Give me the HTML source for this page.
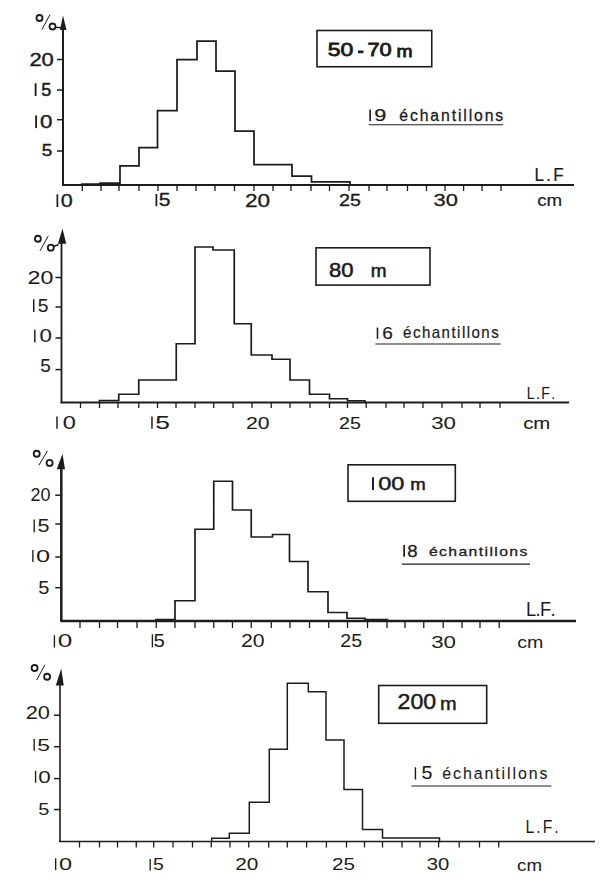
<!DOCTYPE html>
<html><head><meta charset="utf-8">
<style>
html,body{margin:0;padding:0;background:#fff;}
body{width:600px;height:886px;overflow:hidden;}
svg{display:block;}
text{font-family:"Liberation Sans",sans-serif;font-kerning:none;}
</style></head>
<body>
<svg width="600" height="886" viewBox="0 0 600 886">
<rect width="600" height="886" fill="#fff"/>
<line x1="63" y1="28" x2="63" y2="185" stroke="#1c1c1c" stroke-width="2.0"/>
<polygon points="63,15.5 60,30 66.5,30" fill="#1c1c1c"/>
<line x1="62" y1="185" x2="574" y2="185" stroke="#1c1c1c" stroke-width="2.0"/>
<line x1="82.3" y1="185" x2="82.3" y2="191" stroke="#1c1c1c" stroke-width="1.3"/>
<line x1="101" y1="185" x2="101" y2="191" stroke="#1c1c1c" stroke-width="1.3"/>
<line x1="119" y1="185" x2="119" y2="191" stroke="#1c1c1c" stroke-width="1.3"/>
<line x1="139" y1="185" x2="139" y2="191" stroke="#1c1c1c" stroke-width="1.3"/>
<line x1="158" y1="185" x2="158" y2="191" stroke="#1c1c1c" stroke-width="1.3"/>
<line x1="177" y1="185" x2="177" y2="191" stroke="#1c1c1c" stroke-width="1.3"/>
<line x1="196" y1="185" x2="196" y2="191" stroke="#1c1c1c" stroke-width="1.3"/>
<line x1="215" y1="185" x2="215" y2="191" stroke="#1c1c1c" stroke-width="1.3"/>
<line x1="234.5" y1="185" x2="234.5" y2="191" stroke="#1c1c1c" stroke-width="1.3"/>
<line x1="254" y1="185" x2="254" y2="191" stroke="#1c1c1c" stroke-width="1.3"/>
<line x1="273" y1="185" x2="273" y2="191" stroke="#1c1c1c" stroke-width="1.3"/>
<line x1="291" y1="185" x2="291" y2="191" stroke="#1c1c1c" stroke-width="1.3"/>
<line x1="311" y1="185" x2="311" y2="191" stroke="#1c1c1c" stroke-width="1.3"/>
<line x1="329.5" y1="185" x2="329.5" y2="191" stroke="#1c1c1c" stroke-width="1.3"/>
<line x1="349" y1="185" x2="349" y2="191" stroke="#1c1c1c" stroke-width="1.3"/>
<line x1="369" y1="185" x2="369" y2="191" stroke="#1c1c1c" stroke-width="1.3"/>
<line x1="387" y1="185" x2="387" y2="191" stroke="#1c1c1c" stroke-width="1.3"/>
<line x1="407.5" y1="185" x2="407.5" y2="191" stroke="#1c1c1c" stroke-width="1.3"/>
<line x1="426.5" y1="185" x2="426.5" y2="191" stroke="#1c1c1c" stroke-width="1.3"/>
<line x1="445" y1="185" x2="445" y2="191" stroke="#1c1c1c" stroke-width="1.3"/>
<line x1="463.6" y1="185" x2="463.6" y2="191" stroke="#1c1c1c" stroke-width="1.3"/>
<line x1="482" y1="185" x2="482" y2="191" stroke="#1c1c1c" stroke-width="1.3"/>
<line x1="501" y1="185" x2="501" y2="191" stroke="#1c1c1c" stroke-width="1.3"/>
<line x1="57" y1="59.5" x2="63" y2="59.5" stroke="#1c1c1c" stroke-width="1.5"/>
<line x1="57" y1="90" x2="63" y2="90" stroke="#1c1c1c" stroke-width="1.5"/>
<line x1="57" y1="119.7" x2="63" y2="119.7" stroke="#1c1c1c" stroke-width="1.5"/>
<line x1="57" y1="151" x2="63" y2="151" stroke="#1c1c1c" stroke-width="1.5"/>
<circle cx="39.5" cy="18" r="3" fill="none" stroke="#1c1c1c" stroke-width="1.8"/>
<circle cx="52.5" cy="26.5" r="3" fill="none" stroke="#1c1c1c" stroke-width="1.8"/>
<line x1="42" y1="29.5" x2="50" y2="14.5" stroke="#1c1c1c" stroke-width="1.0"/>
<line x1="55.5" y1="27.5" x2="61" y2="27.5" stroke="#1c1c1c" stroke-width="1.5"/>
<text transform="translate(29.39,66.31) scale(1.1535,1)" font-size="19.07" fill="#1c1c1c" stroke="#1c1c1c" stroke-width="0.433">20</text>
<line x1="35.62" y1="83.30" x2="35.62" y2="96.00" stroke="#1c1c1c" stroke-width="1.85"/>
<text transform="translate(41.26,95.82) scale(0.9787,1)" font-size="18.36" fill="#1c1c1c" stroke="#1c1c1c" stroke-width="0.511">5</text>
<line x1="36.12" y1="115.40" x2="36.12" y2="128.10" stroke="#1c1c1c" stroke-width="1.85"/>
<text transform="translate(40.05,127.92) scale(1.2168,1)" font-size="18.36" fill="#1c1c1c" stroke="#1c1c1c" stroke-width="0.411">0</text>
<text transform="translate(41.84,156.13) scale(1.0927,1)" font-size="17.37" fill="#1c1c1c" stroke="#1c1c1c" stroke-width="0.458">5</text>
<line x1="57.38" y1="194.30" x2="57.38" y2="207.00" stroke="#1c1c1c" stroke-width="1.75"/>
<text transform="translate(60.86,206.82) scale(1.1735,1)" font-size="18.36" fill="#1c1c1c" stroke="#1c1c1c" stroke-width="0.341">0</text>
<line x1="156.38" y1="194.05" x2="156.38" y2="206.25" stroke="#1c1c1c" stroke-width="1.75"/>
<text transform="translate(158.66,206.08) scale(1.1946,1)" font-size="17.66" fill="#1c1c1c" stroke="#1c1c1c" stroke-width="0.335">5</text>
<text transform="translate(244.96,206.62) scale(1.2021,1)" font-size="18.79" fill="#1c1c1c" stroke="#1c1c1c" stroke-width="0.333">20</text>
<text transform="translate(339.01,206.09) scale(1.2340,1)" font-size="15.89" fill="#1c1c1c" stroke="#1c1c1c" stroke-width="0.324">25</text>
<text transform="translate(433.46,206.09) scale(1.3801,1)" font-size="15.89" fill="#1c1c1c" stroke="#1c1c1c" stroke-width="0.290">30</text>
<rect x="317" y="30.5" width="114.75" height="36.25" fill="none" stroke="#1c1c1c" stroke-width="1.6"/>
<text transform="translate(327.83,56.32) scale(1.2519,1)" font-size="18.36" fill="#1c1c1c" stroke="#1c1c1c" stroke-width="0.799">50</text>
<rect x="358" y="50.5" width="5.5" height="2.700000000000003" fill="#1c1c1c"/>
<text transform="translate(367.38,56.32) scale(1.1884,1)" font-size="18.36" fill="#1c1c1c" stroke="#1c1c1c" stroke-width="0.841">70</text>
<text transform="translate(396.47,56.50) scale(1.1848,1)" font-size="16.26" fill="#1c1c1c" stroke="#1c1c1c" stroke-width="0.844">m</text>
<line x1="370.12" y1="109.60" x2="370.12" y2="121.30" stroke="#1c1c1c" stroke-width="1.65"/>
<text transform="translate(374.29,121.13) scale(1.2773,1)" font-size="16.95" fill="#1c1c1c" stroke="#1c1c1c" stroke-width="0.235">9</text>
<text transform="translate(399.33,120.74) scale(0.9500,1)" font-size="16.61" letter-spacing="1.972" fill="#1c1c1c" stroke="#1c1c1c" stroke-width="0.316">échantillons</text>
<line x1="368.7" y1="124.7" x2="503" y2="124.7" stroke="#1c1c1c" stroke-width="1.1"/>
<text transform="translate(534.40,180.50) scale(0.9000,1)" font-size="18.90" letter-spacing="2.614" fill="#1c1c1c" stroke="#1c1c1c" stroke-width="0.222">L.F</text>
<text transform="translate(537.20,205.64) scale(1.1484,1)" font-size="16.35" fill="#1c1c1c" stroke="#1c1c1c" stroke-width="0.174">cm</text>
<path d="M82,185 L82,184 L100,184 L100,183 L120,183 L120,165.75 L139,165.75 L139,147.5 L157.5,147.5 L157.5,110.5 L177,110.5 L177,59.5 L197,59.5 L197,41 L216,41 L216,71 L235,71 L235,131 L254,131 L254,164.5 L292,164.5 L292,176 L311.5,176 L311.5,181.8 L350,181.8 L350,185" fill="none" stroke="#1c1c1c" stroke-width="1.75" stroke-linejoin="miter" stroke-linecap="square"/>
<line x1="61.5" y1="241.75" x2="61.5" y2="402.5" stroke="#1c1c1c" stroke-width="1.8"/>
<polygon points="62.5,228.75 57.9,243.75 66.25,243.75" fill="#1c1c1c"/>
<line x1="60.5" y1="402.5" x2="569" y2="402.5" stroke="#1c1c1c" stroke-width="1.8"/>
<line x1="80.5" y1="402.5" x2="80.5" y2="408.0" stroke="#1c1c1c" stroke-width="1.3"/>
<line x1="99.5" y1="402.5" x2="99.5" y2="408.0" stroke="#1c1c1c" stroke-width="1.3"/>
<line x1="118" y1="402.5" x2="118" y2="408.0" stroke="#1c1c1c" stroke-width="1.3"/>
<line x1="138.75" y1="402.5" x2="138.75" y2="408.0" stroke="#1c1c1c" stroke-width="1.3"/>
<line x1="157.5" y1="402.5" x2="157.5" y2="408.0" stroke="#1c1c1c" stroke-width="1.3"/>
<line x1="176" y1="402.5" x2="176" y2="408.0" stroke="#1c1c1c" stroke-width="1.3"/>
<line x1="195" y1="402.5" x2="195" y2="408.0" stroke="#1c1c1c" stroke-width="1.3"/>
<line x1="213.75" y1="402.5" x2="213.75" y2="408.0" stroke="#1c1c1c" stroke-width="1.3"/>
<line x1="233" y1="402.5" x2="233" y2="408.0" stroke="#1c1c1c" stroke-width="1.3"/>
<line x1="252" y1="402.5" x2="252" y2="408.0" stroke="#1c1c1c" stroke-width="1.3"/>
<line x1="271.25" y1="402.5" x2="271.25" y2="408.0" stroke="#1c1c1c" stroke-width="1.3"/>
<line x1="290" y1="402.5" x2="290" y2="408.0" stroke="#1c1c1c" stroke-width="1.3"/>
<line x1="310" y1="402.5" x2="310" y2="408.0" stroke="#1c1c1c" stroke-width="1.3"/>
<line x1="329.5" y1="402.5" x2="329.5" y2="408.0" stroke="#1c1c1c" stroke-width="1.3"/>
<line x1="347.5" y1="402.5" x2="347.5" y2="408.0" stroke="#1c1c1c" stroke-width="1.3"/>
<line x1="366.25" y1="402.5" x2="366.25" y2="408.0" stroke="#1c1c1c" stroke-width="1.3"/>
<line x1="386" y1="402.5" x2="386" y2="408.0" stroke="#1c1c1c" stroke-width="1.3"/>
<line x1="404" y1="402.5" x2="404" y2="408.0" stroke="#1c1c1c" stroke-width="1.3"/>
<line x1="423" y1="402.5" x2="423" y2="408.0" stroke="#1c1c1c" stroke-width="1.3"/>
<line x1="442" y1="402.5" x2="442" y2="408.0" stroke="#1c1c1c" stroke-width="1.3"/>
<line x1="462" y1="402.5" x2="462" y2="408.0" stroke="#1c1c1c" stroke-width="1.3"/>
<line x1="480" y1="402.5" x2="480" y2="408.0" stroke="#1c1c1c" stroke-width="1.3"/>
<line x1="500" y1="402.5" x2="500" y2="408.0" stroke="#1c1c1c" stroke-width="1.3"/>
<line x1="55.5" y1="277.5" x2="61.5" y2="277.5" stroke="#1c1c1c" stroke-width="1.5"/>
<line x1="55.5" y1="307" x2="61.5" y2="307" stroke="#1c1c1c" stroke-width="1.5"/>
<line x1="55.5" y1="338" x2="61.5" y2="338" stroke="#1c1c1c" stroke-width="1.5"/>
<line x1="55.5" y1="369.6" x2="61.5" y2="369.6" stroke="#1c1c1c" stroke-width="1.5"/>
<circle cx="37.9" cy="238.75" r="3" fill="none" stroke="#1c1c1c" stroke-width="1.8"/>
<circle cx="50.8" cy="247.7" r="3" fill="none" stroke="#1c1c1c" stroke-width="1.8"/>
<line x1="40" y1="250.8" x2="48.3" y2="235.8" stroke="#1c1c1c" stroke-width="1.0"/>
<line x1="53.8" y1="246.5" x2="58.5" y2="244.5" stroke="#1c1c1c" stroke-width="1.5"/>
<text transform="translate(27.58,284.31) scale(1.2176,1)" font-size="19.07" fill="#1c1c1c" stroke="#1c1c1c" stroke-width="0.082">20</text>
<line x1="33.73" y1="299.30" x2="33.73" y2="312.00" stroke="#1c1c1c" stroke-width="1.45"/>
<text transform="translate(37.82,311.82) scale(1.0465,1)" font-size="18.36" fill="#1c1c1c" stroke="#1c1c1c" stroke-width="0.096">5</text>
<line x1="34.83" y1="329.80" x2="34.83" y2="342.50" stroke="#1c1c1c" stroke-width="1.45"/>
<text transform="translate(39.47,342.32) scale(1.2145,1)" font-size="18.36" fill="#1c1c1c" stroke="#1c1c1c" stroke-width="0.082">0</text>
<text transform="translate(40.14,372.21) scale(0.9882,1)" font-size="19.21" fill="#1c1c1c" stroke="#1c1c1c" stroke-width="0.101">5</text>
<line x1="56.98" y1="416.55" x2="56.98" y2="428.75" stroke="#1c1c1c" stroke-width="1.45"/>
<text transform="translate(62.83,428.58) scale(1.3330,1)" font-size="17.66" fill="#1c1c1c" stroke="#1c1c1c" stroke-width="0.075">0</text>
<line x1="151.97" y1="416.55" x2="151.97" y2="428.75" stroke="#1c1c1c" stroke-width="1.45"/>
<text transform="translate(155.19,428.58) scale(1.4933,1)" font-size="17.66" fill="#1c1c1c" stroke="#1c1c1c" stroke-width="0.067">5</text>
<text transform="translate(245.93,428.59) scale(1.3381,1)" font-size="15.89" fill="#1c1c1c" stroke="#1c1c1c" stroke-width="0.075">20</text>
<text transform="translate(339.01,428.59) scale(1.2340,1)" font-size="15.89" fill="#1c1c1c" stroke="#1c1c1c" stroke-width="0.081">25</text>
<text transform="translate(431.15,428.83) scale(1.2894,1)" font-size="17.23" fill="#1c1c1c" stroke="#1c1c1c" stroke-width="0.078">30</text>
<rect x="316" y="247.8" width="114" height="37.30000000000001" fill="none" stroke="#1c1c1c" stroke-width="1.6"/>
<text transform="translate(329.04,276.81) scale(1.1148,1)" font-size="19.77" fill="#1c1c1c" stroke="#1c1c1c" stroke-width="0.538">80</text>
<text transform="translate(370.74,277.00) scale(1.0751,1)" font-size="17.66" fill="#1c1c1c" stroke="#1c1c1c" stroke-width="0.558">m</text>
<line x1="377.47" y1="327.60" x2="377.47" y2="338.80" stroke="#1c1c1c" stroke-width="1.55"/>
<text transform="translate(382.29,338.64) scale(1.1668,1)" font-size="16.24" fill="#1c1c1c" stroke="#1c1c1c" stroke-width="0.171">6</text>
<text transform="translate(403.06,338.24) scale(0.9500,1)" font-size="15.88" letter-spacing="1.542" fill="#1c1c1c" stroke="#1c1c1c" stroke-width="0.211">échantillons</text>
<line x1="375.3" y1="344" x2="500.7" y2="344" stroke="#1c1c1c" stroke-width="1.1"/>
<text transform="translate(526.84,398.80) scale(0.9000,1)" font-size="15.70" letter-spacing="1.523" fill="#1c1c1c" stroke="#1c1c1c" stroke-width="0.111">L.F.</text>
<text transform="translate(523.13,428.64) scale(1.2483,1)" font-size="16.35" fill="#1c1c1c" stroke="#1c1c1c" stroke-width="0.080">cm</text>
<path d="M99.5,402.5 L99.5,400.5 L118.75,400.5 L118.75,394.25 L138.75,394.25 L138.75,380 L176.25,380 L176.25,343.75 L195,343.75 L195,247 L213,247 L213,250 L234.25,250 L234.25,323.75 L251.25,323.75 L251.25,355 L272,355 L272,359.25 L290,359.25 L290,380 L309.5,380 L309.5,394.25 L329.5,394.25 L329.5,398.75 L347.5,398.75 L347.5,400.75 L365,400.75 L365,402.5" fill="none" stroke="#1c1c1c" stroke-width="1.7" stroke-linejoin="miter" stroke-linecap="square"/>
<line x1="61.3" y1="467.2" x2="61.3" y2="621" stroke="#1c1c1c" stroke-width="2.5"/>
<polygon points="62.5,453.75 56.7,469.2 65,469.2" fill="#1c1c1c"/>
<line x1="60.3" y1="621" x2="576" y2="621" stroke="#1c1c1c" stroke-width="2.5"/>
<line x1="80" y1="621" x2="80" y2="628" stroke="#1c1c1c" stroke-width="1.3"/>
<line x1="99.5" y1="621" x2="99.5" y2="628" stroke="#1c1c1c" stroke-width="1.3"/>
<line x1="117.5" y1="621" x2="117.5" y2="628" stroke="#1c1c1c" stroke-width="1.3"/>
<line x1="137" y1="621" x2="137" y2="628" stroke="#1c1c1c" stroke-width="1.3"/>
<line x1="156.25" y1="621" x2="156.25" y2="628" stroke="#1c1c1c" stroke-width="1.3"/>
<line x1="175" y1="621" x2="175" y2="628" stroke="#1c1c1c" stroke-width="1.3"/>
<line x1="195" y1="621" x2="195" y2="628" stroke="#1c1c1c" stroke-width="1.3"/>
<line x1="213.75" y1="621" x2="213.75" y2="628" stroke="#1c1c1c" stroke-width="1.3"/>
<line x1="232.5" y1="621" x2="232.5" y2="628" stroke="#1c1c1c" stroke-width="1.3"/>
<line x1="251.25" y1="621" x2="251.25" y2="628" stroke="#1c1c1c" stroke-width="1.3"/>
<line x1="271.25" y1="621" x2="271.25" y2="628" stroke="#1c1c1c" stroke-width="1.3"/>
<line x1="290" y1="621" x2="290" y2="628" stroke="#1c1c1c" stroke-width="1.3"/>
<line x1="309.5" y1="621" x2="309.5" y2="628" stroke="#1c1c1c" stroke-width="1.3"/>
<line x1="328.75" y1="621" x2="328.75" y2="628" stroke="#1c1c1c" stroke-width="1.3"/>
<line x1="347.5" y1="621" x2="347.5" y2="628" stroke="#1c1c1c" stroke-width="1.3"/>
<line x1="367.5" y1="621" x2="367.5" y2="628" stroke="#1c1c1c" stroke-width="1.3"/>
<line x1="387" y1="621" x2="387" y2="628" stroke="#1c1c1c" stroke-width="1.3"/>
<line x1="405" y1="621" x2="405" y2="628" stroke="#1c1c1c" stroke-width="1.3"/>
<line x1="423.75" y1="621" x2="423.75" y2="628" stroke="#1c1c1c" stroke-width="1.3"/>
<line x1="443.2" y1="621" x2="443.2" y2="628" stroke="#1c1c1c" stroke-width="1.3"/>
<line x1="462" y1="621" x2="462" y2="628" stroke="#1c1c1c" stroke-width="1.3"/>
<line x1="480" y1="621" x2="480" y2="628" stroke="#1c1c1c" stroke-width="1.3"/>
<line x1="499.2" y1="621" x2="499.2" y2="628" stroke="#1c1c1c" stroke-width="1.3"/>
<line x1="55.3" y1="495.2" x2="61.3" y2="495.2" stroke="#1c1c1c" stroke-width="1.5"/>
<line x1="55.3" y1="524" x2="61.3" y2="524" stroke="#1c1c1c" stroke-width="1.5"/>
<line x1="55.3" y1="557" x2="61.3" y2="557" stroke="#1c1c1c" stroke-width="1.5"/>
<line x1="55.3" y1="587.7" x2="61.3" y2="587.7" stroke="#1c1c1c" stroke-width="1.5"/>
<circle cx="36.7" cy="453.75" r="3" fill="none" stroke="#1c1c1c" stroke-width="1.8"/>
<circle cx="49.6" cy="462.9" r="3" fill="none" stroke="#1c1c1c" stroke-width="1.8"/>
<line x1="38.75" y1="465.4" x2="47.5" y2="450.8" stroke="#1c1c1c" stroke-width="1.0"/>
<text transform="translate(30.60,500.81) scale(0.9382,1)" font-size="19.07" fill="#1c1c1c">20</text>
<line x1="34.17" y1="519.60" x2="34.17" y2="532.20" stroke="#1c1c1c" stroke-width="1.35"/>
<text transform="translate(37.41,532.02) scale(1.1839,1)" font-size="18.22" fill="#1c1c1c">5</text>
<line x1="32.88" y1="550.10" x2="32.88" y2="562.00" stroke="#1c1c1c" stroke-width="1.35"/>
<text transform="translate(35.97,561.83) scale(1.4741,1)" font-size="17.23" fill="#1c1c1c">0</text>
<text transform="translate(38.20,593.62) scale(1.1083,1)" font-size="18.08" fill="#1c1c1c">5</text>
<line x1="54.42" y1="635.30" x2="54.42" y2="647.50" stroke="#1c1c1c" stroke-width="1.35"/>
<text transform="translate(57.73,647.33) scale(1.4811,1)" font-size="17.66" fill="#1c1c1c">0</text>
<line x1="152.38" y1="634.30" x2="152.38" y2="647.30" stroke="#1c1c1c" stroke-width="1.35"/>
<text transform="translate(153.55,647.12) scale(1.0824,1)" font-size="18.79" fill="#1c1c1c">5</text>
<text transform="translate(240.93,647.33) scale(1.2043,1)" font-size="17.66" fill="#1c1c1c">20</text>
<text transform="translate(340.26,647.33) scale(1.1106,1)" font-size="17.66" fill="#1c1c1c">25</text>
<text transform="translate(431.15,647.83) scale(1.3109,1)" font-size="16.95" fill="#1c1c1c">30</text>
<rect x="348" y="464.8" width="107.30000000000001" height="36.5" fill="none" stroke="#1c1c1c" stroke-width="1.6"/>
<line x1="372.98" y1="477.30" x2="372.98" y2="490.00" stroke="#1c1c1c" stroke-width="1.95"/>
<text transform="translate(378.23,489.82) scale(1.2823,1)" font-size="18.36" fill="#1c1c1c" stroke="#1c1c1c" stroke-width="0.468">00</text>
<text transform="translate(410.37,490.00) scale(1.1345,1)" font-size="16.35" fill="#1c1c1c" stroke="#1c1c1c" stroke-width="0.529">m</text>
<line x1="404.15" y1="545.00" x2="404.15" y2="556.70" stroke="#1c1c1c" stroke-width="1.70"/>
<text transform="translate(407.17,556.53) scale(1.0964,1)" font-size="16.95" fill="#1c1c1c" stroke="#1c1c1c" stroke-width="0.319">8</text>
<text transform="translate(428.93,556.37) scale(1.1500,1)" font-size="13.69" letter-spacing="1.209" fill="#1c1c1c" stroke="#1c1c1c" stroke-width="0.304">échantillons</text>
<line x1="402" y1="564.1" x2="530" y2="564.1" stroke="#1c1c1c" stroke-width="1.1"/>
<text transform="translate(526.00,616.00) scale(0.9000,1)" font-size="20.35" letter-spacing="-0.694" fill="#1c1c1c">L.F.</text>
<text transform="translate(517.17,647.83) scale(1.1462,1)" font-size="17.10" fill="#1c1c1c">cm</text>
<path d="M156,621 L156,619.5 L175,619.5 L175,600.75 L195,600.75 L195,529.25 L213.75,529.25 L213.75,481.25 L232.5,481.25 L232.5,510 L251.25,510 L251.25,537 L272.5,537 L272.5,534.5 L289.5,534.5 L289.5,561.5 L308,561.5 L308,591.75 L328,591.75 L328,612.5 L347,612.5 L347,618.25 L365,618.25 L365,619.5 L387.5,619.5 L387.5,621" fill="none" stroke="#1c1c1c" stroke-width="1.7" stroke-linejoin="miter" stroke-linecap="square"/>
<line x1="60" y1="683.5" x2="60" y2="841.5" stroke="#1c1c1c" stroke-width="1.6"/>
<polygon points="61.25,668.4 55.8,685.5 63.75,685.5" fill="#1c1c1c"/>
<line x1="59" y1="841.5" x2="595" y2="841.5" stroke="#1c1c1c" stroke-width="1.6"/>
<line x1="79.5" y1="841.5" x2="79.5" y2="847.5" stroke="#1c1c1c" stroke-width="1.3"/>
<line x1="99.5" y1="841.5" x2="99.5" y2="847.5" stroke="#1c1c1c" stroke-width="1.3"/>
<line x1="117.5" y1="841.5" x2="117.5" y2="847.5" stroke="#1c1c1c" stroke-width="1.3"/>
<line x1="136.25" y1="841.5" x2="136.25" y2="847.5" stroke="#1c1c1c" stroke-width="1.3"/>
<line x1="153.75" y1="841.5" x2="153.75" y2="847.5" stroke="#1c1c1c" stroke-width="1.3"/>
<line x1="173" y1="841.5" x2="173" y2="847.5" stroke="#1c1c1c" stroke-width="1.3"/>
<line x1="192.5" y1="841.5" x2="192.5" y2="847.5" stroke="#1c1c1c" stroke-width="1.3"/>
<line x1="211.25" y1="841.5" x2="211.25" y2="847.5" stroke="#1c1c1c" stroke-width="1.3"/>
<line x1="230" y1="841.5" x2="230" y2="847.5" stroke="#1c1c1c" stroke-width="1.3"/>
<line x1="248.75" y1="841.5" x2="248.75" y2="847.5" stroke="#1c1c1c" stroke-width="1.3"/>
<line x1="268.75" y1="841.5" x2="268.75" y2="847.5" stroke="#1c1c1c" stroke-width="1.3"/>
<line x1="287.3" y1="841.5" x2="287.3" y2="847.5" stroke="#1c1c1c" stroke-width="1.3"/>
<line x1="306.6" y1="841.5" x2="306.6" y2="847.5" stroke="#1c1c1c" stroke-width="1.3"/>
<line x1="326.4" y1="841.5" x2="326.4" y2="847.5" stroke="#1c1c1c" stroke-width="1.3"/>
<line x1="346.5" y1="841.5" x2="346.5" y2="847.5" stroke="#1c1c1c" stroke-width="1.3"/>
<line x1="364.5" y1="841.5" x2="364.5" y2="847.5" stroke="#1c1c1c" stroke-width="1.3"/>
<line x1="382.5" y1="841.5" x2="382.5" y2="847.5" stroke="#1c1c1c" stroke-width="1.3"/>
<line x1="402" y1="841.5" x2="402" y2="847.5" stroke="#1c1c1c" stroke-width="1.3"/>
<line x1="420" y1="841.5" x2="420" y2="847.5" stroke="#1c1c1c" stroke-width="1.3"/>
<line x1="438.6" y1="841.5" x2="438.6" y2="847.5" stroke="#1c1c1c" stroke-width="1.3"/>
<line x1="459.2" y1="841.5" x2="459.2" y2="847.5" stroke="#1c1c1c" stroke-width="1.3"/>
<line x1="479.5" y1="841.5" x2="479.5" y2="847.5" stroke="#1c1c1c" stroke-width="1.3"/>
<line x1="498.7" y1="841.5" x2="498.7" y2="847.5" stroke="#1c1c1c" stroke-width="1.3"/>
<line x1="54" y1="715.2" x2="60" y2="715.2" stroke="#1c1c1c" stroke-width="1.5"/>
<line x1="54" y1="746.7" x2="60" y2="746.7" stroke="#1c1c1c" stroke-width="1.5"/>
<line x1="54" y1="778.6" x2="60" y2="778.6" stroke="#1c1c1c" stroke-width="1.5"/>
<line x1="54" y1="809.5" x2="60" y2="809.5" stroke="#1c1c1c" stroke-width="1.5"/>
<circle cx="34.6" cy="668" r="3" fill="none" stroke="#1c1c1c" stroke-width="1.8"/>
<circle cx="47.1" cy="676.75" r="3" fill="none" stroke="#1c1c1c" stroke-width="1.8"/>
<line x1="36.7" y1="680" x2="45" y2="664.7" stroke="#1c1c1c" stroke-width="1.0"/>
<text transform="translate(25.70,718.81) scale(1.1349,1)" font-size="19.21" fill="#1c1c1c">20</text>
<line x1="34.17" y1="738.90" x2="34.17" y2="750.80" stroke="#1c1c1c" stroke-width="1.35"/>
<text transform="translate(37.34,750.63) scale(1.3271,1)" font-size="17.23" fill="#1c1c1c">5</text>
<line x1="35.57" y1="770.80" x2="35.57" y2="782.70" stroke="#1c1c1c" stroke-width="1.35"/>
<text transform="translate(38.17,782.53) scale(1.3053,1)" font-size="17.23" fill="#1c1c1c">0</text>
<text transform="translate(38.20,815.03) scale(1.1628,1)" font-size="17.23" fill="#1c1c1c">5</text>
<line x1="55.67" y1="858.30" x2="55.67" y2="870.00" stroke="#1c1c1c" stroke-width="1.35"/>
<text transform="translate(59.12,869.83) scale(1.3836,1)" font-size="16.95" fill="#1c1c1c">0</text>
<line x1="150.18" y1="859.05" x2="150.18" y2="870.50" stroke="#1c1c1c" stroke-width="1.35"/>
<text transform="translate(152.95,870.34) scale(1.1781,1)" font-size="16.60" fill="#1c1c1c">5</text>
<text transform="translate(235.21,870.34) scale(1.2517,1)" font-size="16.60" fill="#1c1c1c">20</text>
<text transform="translate(331.96,870.24) scale(1.2786,1)" font-size="16.10" fill="#1c1c1c">25</text>
<text transform="translate(426.73,870.24) scale(1.2599,1)" font-size="16.10" fill="#1c1c1c">30</text>
<rect x="378.7" y="685.5" width="108.0" height="37.799999999999955" fill="none" stroke="#1c1c1c" stroke-width="1.6"/>
<text transform="translate(397.53,709.49) scale(1.0940,1)" font-size="21.19" fill="#1c1c1c" stroke="#1c1c1c" stroke-width="0.457">200</text>
<text transform="translate(439.97,709.70) scale(1.1084,1)" font-size="18.03" fill="#1c1c1c" stroke="#1c1c1c" stroke-width="0.451">m</text>
<line x1="415.43" y1="767.30" x2="415.43" y2="779.50" stroke="#1c1c1c" stroke-width="1.45"/>
<text transform="translate(421.41,779.33) scale(1.1110,1)" font-size="17.66" fill="#1c1c1c" stroke="#1c1c1c" stroke-width="0.090">5</text>
<text transform="translate(442.32,779.04) scale(0.9500,1)" font-size="16.79" letter-spacing="2.010" fill="#1c1c1c" stroke="#1c1c1c" stroke-width="0.105">échantillons</text>
<line x1="411.5" y1="786" x2="551.4" y2="786" stroke="#1c1c1c" stroke-width="1.1"/>
<text transform="translate(525.41,833.30) scale(0.9000,1)" font-size="17.44" letter-spacing="2.326" fill="#1c1c1c">L.F.</text>
<text transform="translate(517.11,871.34) scale(1.1434,1)" font-size="16.35" fill="#1c1c1c">cm</text>
<path d="M211.7,841.5 L211.7,838.3 L229.3,838.3 L229.3,833.3 L249.3,833.3 L249.3,802.3 L269.3,802.3 L269.3,749.3 L287.3,749.3 L287.3,683.3 L308.3,683.3 L308.3,691.7 L326,691.7 L326,740 L344,740 L344,789.5 L362.5,789.5 L362.5,829.5 L382.5,829.5 L382.5,838 L439.5,838 L439.5,841.5" fill="none" stroke="#1c1c1c" stroke-width="1.5" stroke-linejoin="miter" stroke-linecap="square"/>
</svg>
</body></html>
